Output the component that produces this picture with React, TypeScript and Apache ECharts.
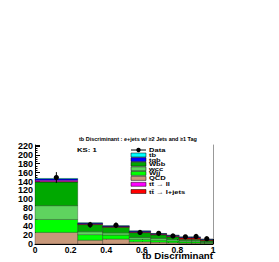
import React, { useEffect, useRef } from "react";
import * as echarts from "echarts";

// Bin edges of the tb discriminant histogram
const binEdges = [0, 0.24, 0.38, 0.53, 0.65, 0.74, 0.81, 0.88, 0.93, 1.0];

// Stacked backgrounds/signals (bottom -> top)
const qcd = [26, 8.5, 11, 5, 4, 3, 2, 2, 1.5];
const wjj = [29, 12.5, 9, 5.5, 4.5, 4, 3, 3, 2];
const wcc = [31, 6.5, 5, 4, 4, 3, 2.5, 2.5, 1.5];
const wbb = [53, 16, 12.5, 11, 8, 6, 3, 3, 2.5];
const ttLjets = [1, 1, 1, 1, 1, 1.3, 3, 3, 1.5];
const ttLl = [3, 1, 1, 1, 1, 1, 1, 1, 0.8];
const tqb = [3, 1.5, 1, 1.5, 0.7, 1, 1, 1, 0.8];
const tb = [1, 0.5, 0.5, 0.5, 0.4, 0.5, 0.5, 0.5, 0.4];

// Observed data
const dataCounts = [149, 43, 42, 26, 24, 18, 16, 17, 12];

const yTicks = { min: 0, max: 222, interval: 20 };
const xTicks = { min: 0, max: 1, interval: 0.2 };

const stackDefs = [
  { name: "QCD", values: qcd, color: "#c8987a" },
  { name: "Wjj", values: wjj, color: "#00ff00" },
  { name: "wcc", values: wcc, color: "#5fd35f" },
  { name: "Wbb", values: wbb, color: "#00a800" },
  { name: "tt̄ → l+jets", values: ttLjets, color: "#ff0000" },
  { name: "tt̄ → ll", values: ttLl, color: "#ff00ff" },
  { name: "tqb", values: tqb, color: "#0000ff" },
  { name: "tb", values: tb, color: "#00ffff" },
];

const legendOrder = ["tb", "tqb", "Wbb", "wcc", "Wjj", "QCD", "tt̄ → ll", "tt̄ → l+jets"];

const FONT = "Liberation Sans, Arial, sans-serif";

export default function App() {
  const ref = useRef<HTMLDivElement>(null);
  useEffect(() => {
    if (!ref.current) return;
    const chart = echarts.init(ref.current, undefined, { renderer: "svg" });

    const cum = binEdges.slice(0, -1).map(() => 0);
    const stackSeries = stackDefs.map((def) => {
      const items = def.values.map((v, i) => {
        const bottom = cum[i];
        const top = bottom + v;
        cum[i] = top;
        return [binEdges[i], binEdges[i + 1], bottom, top];
      });
      return {
        type: "custom",
        name: def.name,
        data: items,
        encode: { x: [0, 1], y: [2, 3] },
        z: 2,
        renderItem: (params: any, api: any) => {
          const p0 = api.coord([api.value(0), api.value(3)]);
          const p1 = api.coord([api.value(1), api.value(2)]);
          return {
            type: "rect",
            shape: { x: p0[0], y: p0[1], width: p1[0] - p0[0], height: p1[1] - p0[1] },
            style: { fill: def.color, stroke: "rgba(0,0,0,0.55)", lineWidth: 0.5 },
          };
        },
      };
    });

    const dataItems = dataCounts.map((c, i) => [
      (binEdges[i] + binEdges[i + 1]) / 2,
      c,
      Math.sqrt(c),
    ]);

    const dataSeries = {
      type: "custom",
      name: "Data",
      data: dataItems,
      encode: { x: 0, y: 1 },
      z: 5,
      renderItem: (params: any, api: any) => {
        const x = api.value(0);
        const v = api.value(1);
        const e = api.value(2);
        const pc = api.coord([x, v]);
        const pl = api.coord([x, v - e]);
        const ph = api.coord([x, v + e]);
        return {
          type: "group",
          children: [
            {
              type: "line",
              shape: { x1: pl[0], y1: pl[1], x2: ph[0], y2: ph[1] },
              style: { stroke: "#000", lineWidth: 1 },
            },
            {
              type: "circle",
              shape: { cx: pc[0], cy: pc[1], r: 2.6 },
              style: { fill: "#000" },
            },
          ],
        };
      },
    };

    // Legend built with graphic elements
    const legendX = 131;
    const legendYs = [150, 155, 159.6, 164.2, 168.8, 173.4, 178.4, 184.3, 191.5];
    const legendGraphics: any[] = [];
    const legendFont = `bold 5.2px ${FONT}`;
    legendGraphics.push({
      type: "line",
      shape: { x1: legendX, y1: legendYs[0], x2: legendX + 15, y2: legendYs[0] },
      style: { stroke: "#000", lineWidth: 1 },
    });
    legendGraphics.push({
      type: "circle",
      shape: { cx: legendX + 7.5, cy: legendYs[0], r: 2.2 },
      style: { fill: "#000" },
    });
    legendGraphics.push({
      type: "text",
      x: legendX + 18,
      y: legendYs[0],
      scaleX: 1.45,
      style: { text: "Data", font: legendFont, fill: "#000", verticalAlign: "middle" },
    });
    legendOrder.forEach((name, k) => {
      const def = stackDefs.find((d) => d.name === name)!;
      const y = legendYs[k + 1];
      legendGraphics.push({
        type: "rect",
        shape: { x: legendX, y: y - 2, width: 15, height: 4 },
        style: { fill: def.color, stroke: "#000", lineWidth: 0.5 },
      });
      legendGraphics.push({
        type: "text",
        x: legendX + 18,
        y: y,
        scaleX: 1.45,
        style: { text: name, font: legendFont, fill: "#000", verticalAlign: "middle" },
      });
    });

    chart.setOption({
      animation: false,
      backgroundColor: "#fff",
      grid: {
        left: 35,
        right: 66,
        top: 145,
        bottom: 18,
        containLabel: false,
        outerBoundsMode: "none",
      },
      xAxis: {
        type: "value",
        min: xTicks.min,
        max: xTicks.max,
        interval: xTicks.interval,
        axisLine: { show: true, onZero: false, lineStyle: { color: "#000", width: 1 } },
        axisTick: { show: true, inside: true, length: 5, lineStyle: { color: "#000" } },
        minorTick: { show: true, splitNumber: 4, length: 2.5, lineStyle: { color: "#000" } },
        splitLine: { show: false },
        axisLabel: {
          color: "#000",
          fontFamily: FONT,
          fontWeight: "bold",
          fontSize: 8.5,
          margin: 1,
          formatter: (v: number) => String(Math.round(v * 10) / 10),
        },
      },
      yAxis: [
        {
          type: "value",
          min: yTicks.min,
          max: yTicks.max,
          interval: yTicks.interval,
          axisLine: { show: true, lineStyle: { color: "#000", width: 1 } },
          axisTick: { show: true, inside: true, length: 5, lineStyle: { color: "#000" } },
          minorTick: { show: true, splitNumber: 4, length: 2.5, lineStyle: { color: "#000" } },
          splitLine: { show: false },
          axisLabel: {
            color: "#000",
            fontFamily: FONT,
            fontWeight: "bold",
            fontSize: 9,
            margin: 2,
            showMaxLabel: false,
          },
        },
        {
          type: "value",
          position: "right",
          min: yTicks.min,
          max: yTicks.max,
          interval: yTicks.interval,
          axisLine: { show: true, lineStyle: { color: "#999", width: 1 } },
          axisTick: { show: false },
          axisLabel: { show: false },
          splitLine: { show: false },
        },
      ],
      graphic: [
        {
          type: "text",
          x: 138,
          y: 139,
          style: {
            text: "tb Discriminant : e+jets w/ ≥2 Jets and ≥1 Tag",
            font: `bold 5.5px ${FONT}`,
            fill: "#000",
            align: "center",
            verticalAlign: "middle",
          },
        },
        {
          type: "text",
          x: 77,
          y: 150,
          scaleX: 1.3,
          style: { text: "KS: 1", font: `bold 6px ${FONT}`, fill: "#000", verticalAlign: "middle" },
        },
        {
          type: "text",
          x: 213,
          y: 256.5,
          scaleX: 1.08,
          style: {
            text: "tb Discriminant",
            font: `bold 9px ${FONT}`,
            fill: "#000",
            align: "right",
            verticalAlign: "middle",
          },
        },
        ...legendGraphics,
      ],
      series: [...stackSeries, dataSeries],
    });

    return () => chart.dispose();
  }, []);

  return (
    <div
      ref={ref}
      style={{ position: "fixed", left: 0, top: 0, width: 279, height: 262 }}
    />
  );
}
